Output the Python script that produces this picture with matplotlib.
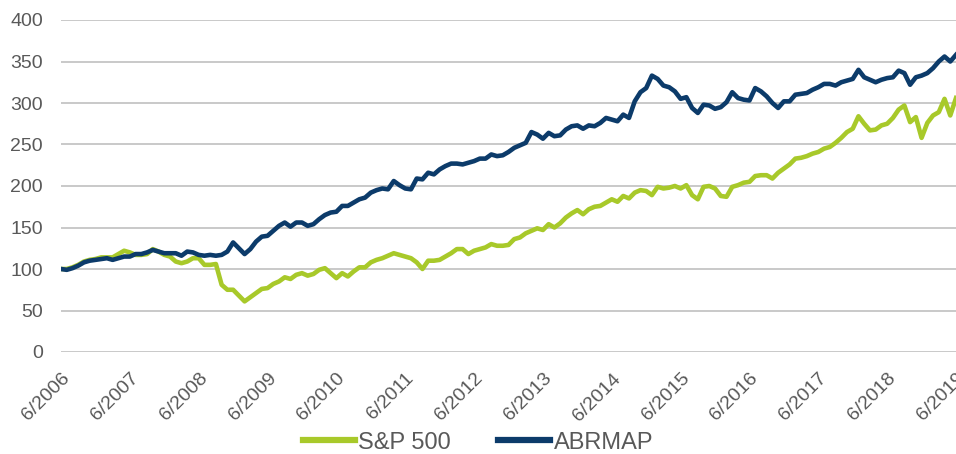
import numpy as np
import matplotlib
matplotlib.use("Agg")
import matplotlib.pyplot as plt

plt.rcParams['font.family'] = ['Liberation Sans', 'DejaVu Sans']

tick_labels = ["6/2006", "6/2007", "6/2008", "6/2009", "6/2010", "6/2011", "6/2012",
               "6/2013", "6/2014", "6/2015", "6/2016", "6/2017", "6/2018", "6/2019"]

sp500 = [100, 100, 102, 105, 109, 111, 112, 114, 114, 114, 118, 122, 120, 117, 117, 118,
         124, 121, 117, 115, 109, 107, 109, 113, 113, 105, 105, 106, 81, 75, 75, 68,
         61, 66, 71, 76, 77, 82, 85, 90, 88, 93, 95, 92, 94, 99, 101, 95,
         89, 95, 91, 97, 102, 102, 108, 111, 113, 116, 119, 117, 115, 113, 108, 100,
         110, 110, 111, 115, 119, 124, 124, 118, 122, 124, 126, 130, 128, 128, 129, 136,
         138, 143, 146, 149, 147, 154, 150, 155, 162, 167, 171, 166, 172, 175, 176, 180,
         184, 181, 188, 185, 192, 195, 194, 189, 199, 197, 198, 200, 197, 201, 189, 184,
         199, 200, 197, 188, 187, 199, 201, 204, 205, 212, 213, 213, 209, 216, 221, 226,
         233, 234, 236, 239, 241, 245, 247, 252, 258, 265, 269, 284, 275, 267, 268, 273,
         275, 282, 292, 297, 277, 283, 258, 276, 285, 289, 305, 285, 306]

abrmap = [100, 99, 101, 104, 108, 110, 111, 112, 113, 111, 113, 115, 115, 118, 118, 120,
          123, 121, 119, 119, 119, 116, 121, 120, 117, 116, 117, 116, 117, 121, 132, 125,
          118, 124, 133, 139, 140, 146, 152, 156, 151, 156, 156, 152, 154, 160, 165, 168,
          169, 176, 176, 180, 184, 186, 192, 195, 197, 196, 206, 201, 197, 196, 209, 208,
          216, 214, 220, 224, 227, 227, 226, 228, 230, 233, 233, 238, 236, 237, 241, 246,
          249, 252, 265, 262, 257, 264, 260, 261, 268, 272, 273, 269, 273, 272, 276, 282,
          280, 278, 286, 282, 302, 313, 318, 333, 329, 321, 319, 314, 305, 307, 294, 288,
          298, 297, 293, 295, 301, 313, 306, 304, 303, 318, 314, 308, 300, 294, 302, 302,
          310, 311, 312, 316, 319, 323, 323, 321, 325, 327, 329, 340, 331, 328, 325, 328,
          330, 331, 339, 336, 322, 331, 333, 336, 342, 350, 356, 350, 358]

green = '#A8C92A'
navy = '#0C3B6A'

fig = plt.figure(figsize=(9.56, 4.54), dpi=100)
ax = fig.add_axes([61/956, 102/454, 1 - 61/956, 332/454])

x_sp = np.arange(len(sp500))
x_ab = np.arange(len(abrmap))
ax.plot(x_sp, sp500, color=green, lw=3.3, solid_joinstyle='round', label='S&P 500', zorder=3)
ax.plot(x_ab, abrmap, color=navy, lw=3.3, solid_joinstyle='round', label='ABRMAP', zorder=4)

ax.set_ylim(0, 400)
ax.set_xlim(0, 156)
ax.set_yticks(np.arange(0, 401, 50))
ax.set_xticks(np.arange(0, 157, 12))
ax.set_xticklabels(tick_labels, rotation=45, ha='right', rotation_mode='anchor')
ax.tick_params(axis='y', length=0, pad=13, labelsize=14, labelcolor='#595959')
ax.tick_params(axis='x', length=0, pad=13, labelsize=14, labelcolor='#595959')
ax.yaxis.grid(True, color='#c0c0c0', lw=1.2)
ax.set_axisbelow(True)
for s in ax.spines.values():
    s.set_visible(False)

fig.legend(loc='center', bbox_to_anchor=(0.5, 0.025), ncol=2, frameon=False,
           fontsize=17, handlelength=2.2, handletextpad=0.15, columnspacing=2.0,
           labelcolor='#595959')
for line in fig.legends[0].get_lines():
    line.set_linewidth(4.5)

fig.savefig('out.png', dpi=100)
